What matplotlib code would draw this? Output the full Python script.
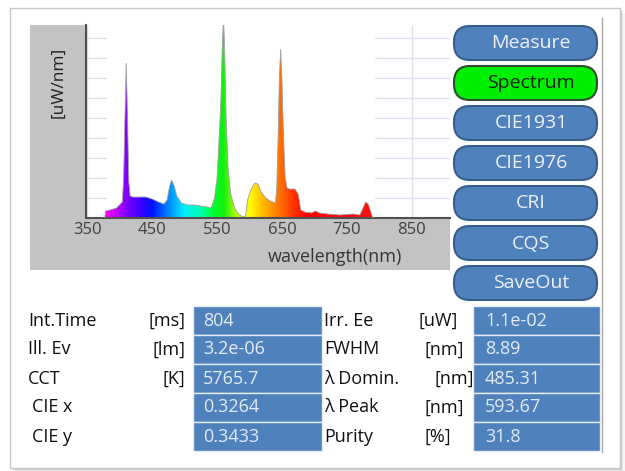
import matplotlib
matplotlib.use('Agg')
import matplotlib.pyplot as plt
from matplotlib.patches import Rectangle, FancyBboxPatch
from matplotlib.colors import LinearSegmentedColormap
import numpy as np

W, H = 625, 471

# spectrum (wavelength in nm, height in grid units)
wavelength = [377, 378, 385, 395, 404, 406, 408, 410, 412, 414, 416, 420, 430, 440, 450,
              460, 468, 473, 477, 480, 484, 488, 495, 505, 515, 525, 535, 541, 546,
              550, 554, 556, 558, 560, 562, 564, 567, 571, 577, 583, 590, 594, 597,
              602, 608, 613, 618, 625, 632, 640, 642, 644, 646, 648, 650, 652, 655,
              658, 662, 670, 675, 679, 685, 695, 702, 708, 720, 740, 760, 770, 775,
              779, 783, 787, 790]
irradiance = [0.0, 0.35, 0.4, 0.5, 0.8, 2.0, 5.0, 7.75, 5.0, 1.8, 1.1, 1.05, 1.05, 1.05, 0.95,
              0.8, 0.7, 0.9, 1.6, 1.9, 1.6, 1.1, 0.75, 0.65, 0.65, 0.6, 0.55, 0.5, 1.0,
              2.0, 4.5, 6.0, 8.5, 10.2, 8.0, 5.0, 2.5, 1.2, 0.5, 0.2, 0.05, 0.1, 0.9,
              1.4, 1.75, 1.7, 1.3, 1.0, 0.85, 0.75, 1.5, 4.0, 7.0, 8.45, 7.0, 4.5, 2.0,
              1.5, 1.45, 1.45, 1.2, 0.4, 0.3, 0.25, 0.35, 0.25, 0.2, 0.15, 0.2, 0.15, 0.5,
              0.8, 0.7, 0.3, 0.0]

x_ticks = [350, 450, 550, 650, 750, 850]

buttons = ['Measure', 'Spectrum', 'CIE1931', 'CIE1976', 'CRI', 'CQS', 'SaveOut']
active_button = 'Spectrum'

left_labels = ['Int.Time', 'Ill. Ev', 'CCT', 'CIE x', 'CIE y']
left_units = ['[ms]', '[lm]', '[K]', '', '']
left_values = ['804', '3.2e-06', '5765.7', '0.3264', '0.3433']
right_labels = ['Irr. Ee', 'FWHM', 'λ Domin.', 'λ Peak', 'Purity']
right_units = ['[uW]', '[nm]', '[nm]', '[nm]', '[%]']
right_values = ['1.1e-02', '8.89', '485.31', '593.67', '31.8']

plt.rcParams['font.family'] = ['Open Sans', 'DejaVu Sans']

fig = plt.figure(figsize=(W / 100, H / 100), dpi=100)
fig.patch.set_facecolor('white')

# background axes in pixel units (y down) for the window chrome
bg = fig.add_axes([0, 0, 1, 1])
bg.set_xlim(0, W); bg.set_ylim(H, 0); bg.axis('off')

# panel with a soft shadow
for off, a in [(5, 0.04), (3, 0.06), (1.5, 0.10)]:
    bg.add_patch(Rectangle((10 + off, 8 + off), 610, 460, facecolor='black', alpha=a, edgecolor='none'))
bg.add_patch(Rectangle((10, 8), 610, 460, facecolor='white', edgecolor='#c8c8c8', lw=1))
bg.plot([602, 602], [18, 452], color='#a8a8a8', lw=1)

# gray chart background
bg.add_patch(Rectangle((30, 25), 420, 245, facecolor='#c3c3c3', edgecolor='none'))
bg.text(58, 82, '[uW/nm]', rotation=90, ha='center', va='center', fontsize=12.5, color='#202020')
bg.text(335, 257, 'wavelength(nm)', ha='center', va='center', fontsize=13, color='#353535')

# buttons
for i, name in enumerate(buttons):
    top = 26 + 40 * i
    active = name == active_button
    bg.add_patch(FancyBboxPatch((454, top), 143, 34,
                                boxstyle='round,pad=0,rounding_size=16',
                                facecolor='#00ee00' if active else '#4f81bd',
                                edgecolor='#2f4f2f' if active else '#385d8a', lw=1.5))
    bg.text(531, top + 17.5, name, ha='center', va='center', fontsize=14,
            color='#0a200a' if active else '#eef2f8')

# results table
for i in range(5):
    top = 306 + 29 * i
    yc = top + 14.5
    bg.add_patch(Rectangle((193, top), 129, 29, facecolor='#4f81bd', edgecolor='#e8eef6', lw=1))
    bg.add_patch(Rectangle((473, top), 127, 29, facecolor='#4f81bd', edgecolor='#e8eef6', lw=1))
    lx = 32 if left_labels[i].startswith('CIE') else 28
    bg.text(lx, yc, left_labels[i], ha='left', va='center', fontsize=13, color='#101010')
    bg.text(185, yc, left_units[i], ha='right', va='center', fontsize=13, color='#101010')
    bg.text(203, yc, left_values[i], ha='left', va='center', fontsize=13, color='#e4ecf6')
    bg.text(324, yc, right_labels[i], ha='left', va='center', fontsize=13, color='#101010')
    ux = [418, 425, 435, 425, 425][i]
    bg.text(ux, yc, right_units[i], ha='left', va='center', fontsize=13, color='#101010', zorder=1)
    bg.text(485, yc, right_values[i], ha='left', va='center', fontsize=13, color='#e4ecf6')

# spectrum axes
ax = fig.add_axes([86 / W, 1 - 218 / H, (450 - 86) / W, (218 - 25) / H])
ax.set_facecolor('white')
ax.set_xlim(348, 909)
ax.set_ylim(0, 9.67)
ax.set_xticks(x_ticks)
ax.set_yticks(range(1, 10))
ax.set_yticklabels([])
ax.tick_params(length=0, labelsize=12, labelcolor='#404040', pad=3)
ax.grid(True, color='#dde2ee', lw=1)
ax.set_axisbelow(True)
for s in ['top', 'right']:
    ax.spines[s].set_visible(False)
for s in ['left', 'bottom']:
    ax.spines[s].set_color('#505050')
    ax.spines[s].set_linewidth(1.5)

ax.axvspan(380, 792, color='white', zorder=1)

stops = [(378, '#ff00ff'), (395, '#c000ff'), (410, '#8000ff'), (430, '#4000ff'),
         (450, '#0010ff'), (470, '#0070ff'), (485, '#00b0ff'), (500, '#00f0ff'),
         (525, '#00ffb0'), (545, '#00ff30'), (560, '#10f010'), (580, '#b0ff00'),
         (600, '#ffff00'), (615, '#ffd000'), (635, '#ff9000'), (650, '#ff6a00'),
         (670, '#ff3000'), (690, '#ff0000'), (792, '#ff1010')]
cmap = LinearSegmentedColormap.from_list(
    'spec', [((w - 378) / (792 - 378), c) for w, c in stops])
poly = ax.fill(wavelength, irradiance, facecolor='none', edgecolor='none')[0]
im = ax.imshow(np.linspace(0, 1, 600)[None, :], extent=[378, 792, 0, 11], origin='lower',
               aspect='auto', cmap=cmap, interpolation='bilinear', zorder=2)
im.set_clip_path(poly)
ax.plot(wavelength, irradiance, color='#a0a0a0', lw=0.6, zorder=3)
ax.set_xlim(348, 909)
ax.set_ylim(0, 9.67)

fig.savefig('out.png', dpi=100)
